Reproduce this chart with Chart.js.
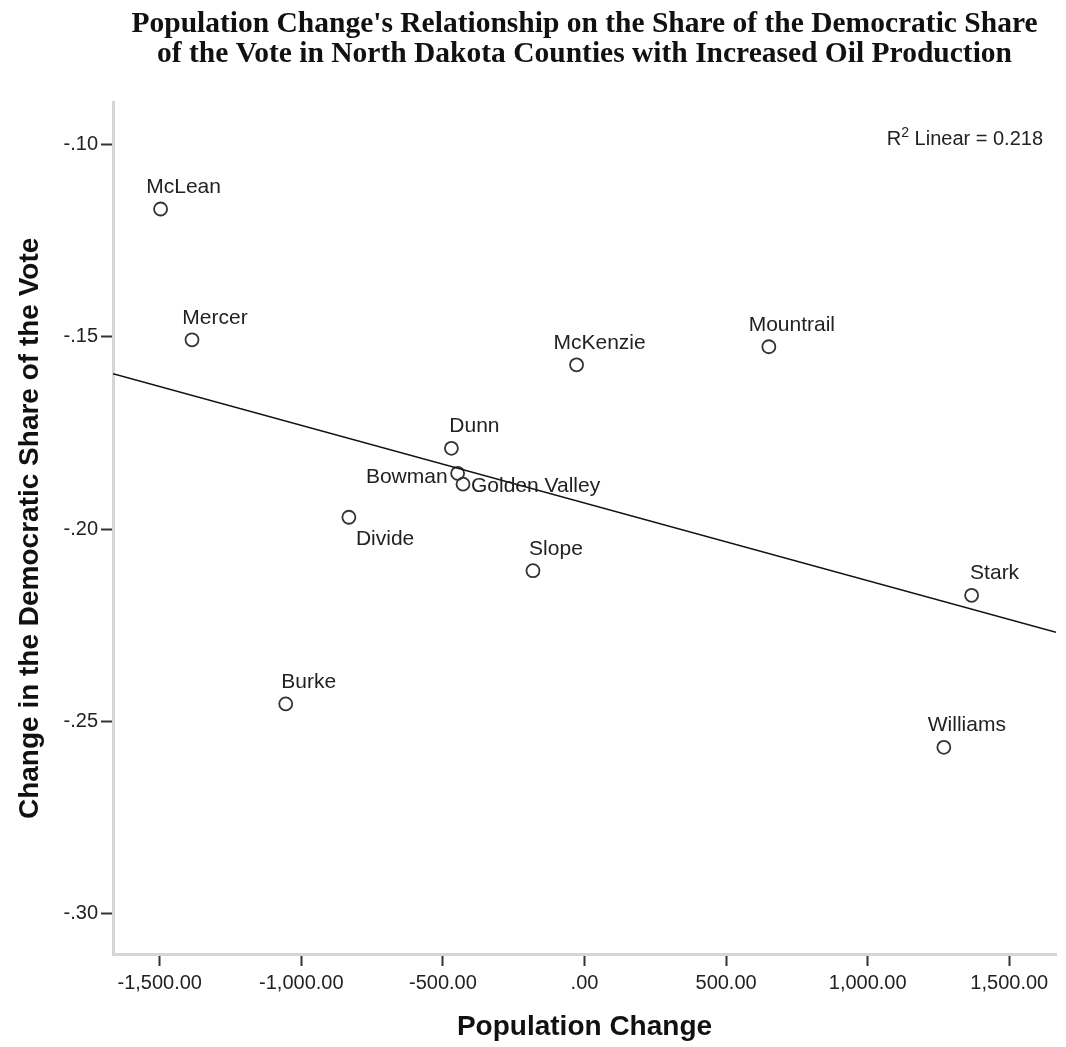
<!DOCTYPE html>
<html>
<head>
<meta charset="utf-8">
<title>Population Change and the Democratic Share - North Dakota</title>
<script src="https://cdn.jsdelivr.net/npm/chart.js@4/dist/chart.umd.min.js"></script>
<style>
    html, body { margin: 0; padding: 0; background: #fff; }
</style>
</head>
<body>
<canvas id="myChart" width="1066" height="1047"></canvas>
<script>

// county data
const counties = ["McLean", "Mercer", "Burke", "Divide", "Dunn", "Bowman", "Golden Valley", "Slope", "McKenzie", "Mountrail", "Williams", "Stark"];
const popChange = [-1497, -1386, -1055, -832, -470, -448, -429, -182, -28, 651, 1269, 1367];
const demShareChange = [-0.1168, -0.1508, -0.2454, -0.1969, -0.1790, -0.1855, -0.1883, -0.2108, -0.1573, -0.1526, -0.2567, -0.2172];

// axis ticks
const xTicks = [-1500, -1000, -500, 0, 500, 1000, 1500];
const yTicks = [-0.10, -0.15, -0.20, -0.25, -0.30];

const xMin = -1665;
const xMax = 1665;
const yMin = -0.3104;
const yMax = -0.0892;

// labels that are not placed above their point
const labelPlacement = {
    "Divide": "below",
    "Bowman": "left",
    "Golden Valley": "right"
};

// least squares fit of share change on population change
function fitLine(xs, ys) {
    let n = xs.length;
    let mx = xs.reduce((a, b) => a + b, 0) / n;
    let my = ys.reduce((a, b) => a + b, 0) / n;
    let sxy = 0, sxx = 0, syy = 0;
    for (var i = 0; i < n; i++) {
        sxy += (xs[i] - mx) * (ys[i] - my);
        sxx += (xs[i] - mx) * (xs[i] - mx);
        syy += (ys[i] - my) * (ys[i] - my);
    }
    let slope = sxy / sxx;
    return {
        slope: slope,
        intercept: my - slope * mx,
        r2: (sxy * sxy) / (sxx * syy)
    };
}

const fit = fitLine(popChange, demShareChange);

const points = popChange.map((x, i) => ({ x: x, y: demShareChange[i] }));
const fitPoints = [xMin, xMax].map(x => ({ x: x, y: fit.intercept + fit.slope * x }));

// county names next to each circle
const pointLabels = {
    id: "pointLabels",
    afterDatasetsDraw(chart) {
        const ctx = chart.ctx;
        const meta = chart.getDatasetMeta(1);
        ctx.save();
        ctx.font = "21px 'Liberation Sans', Arial, sans-serif";
        ctx.fillStyle = "#222";
        meta.data.forEach((pt, i) => {
            const name = counties[i];
            const place = labelPlacement[name] || "above";
            if (place === "below") {
                ctx.textAlign = "left";
                ctx.fillText(name, pt.x + 7, pt.y + 28);
            } else if (place === "left") {
                ctx.textAlign = "right";
                ctx.fillText(name, pt.x - 10, pt.y + 10);
            } else if (place === "right") {
                ctx.textAlign = "left";
                ctx.fillText(name, pt.x + 8, pt.y + 8);
            } else {
                ctx.textAlign = "center";
                ctx.fillText(name, pt.x + 23, pt.y - 16);
            }
        });
        ctx.restore();
    }
};

// R squared note in the top right corner
const fitNote = {
    id: "fitNote",
    afterDraw(chart) {
        const ctx = chart.ctx;
        const area = chart.chartArea;
        const rest = " Linear = " + fit.r2.toFixed(3);
        const baseY = area.top + 42;
        ctx.save();
        ctx.fillStyle = "#222";
        ctx.textAlign = "left";
        ctx.font = "20px 'Liberation Sans', Arial, sans-serif";
        const wR = ctx.measureText("R").width;
        const wRest = ctx.measureText(rest).width;
        ctx.font = "14px 'Liberation Sans', Arial, sans-serif";
        const wSup = ctx.measureText("2").width;
        let x = area.right - 13 - wR - wSup - wRest;
        ctx.font = "20px 'Liberation Sans', Arial, sans-serif";
        ctx.fillText("R", x, baseY);
        ctx.font = "14px 'Liberation Sans', Arial, sans-serif";
        ctx.fillText("2", x + wR, baseY - 8);
        ctx.font = "20px 'Liberation Sans', Arial, sans-serif";
        ctx.fillText(rest, x + wR + wSup, baseY);
        ctx.restore();
    }
};

const tickFont = { family: "'Liberation Sans', Arial, sans-serif", size: 20 };
const axisTitleFont = { family: "'Liberation Sans', Arial, sans-serif", size: 28, weight: "bold", lineHeight: 1.2 };

let myChart = new Chart(document.getElementById("myChart"), {
    type: "scatter",
    data: {
        datasets: [{
            type: "line",
            label: "Fit",
            data: fitPoints,
            borderColor: "#111",
            borderWidth: 1.6,
            pointRadius: 0,
            fill: false
        }, {
            label: "Counties",
            data: points,
            pointStyle: "circle",
            pointRadius: 6.5,
            borderWidth: 1.8,
            borderColor: "#333",
            backgroundColor: "rgba(255,255,255,0)"
        }]
    },
    options: {
        responsive: false,
        animation: false,
        events: [],
        layout: {
            padding: { top: 0, right: 10, bottom: 0, left: 5 }
        },
        plugins: {
            legend: { display: false },
            tooltip: { enabled: false },
            title: {
                display: true,
                fullSize: false,
                text: [
                    "Population Change's Relationship on the Share of the Democratic Share",
                    "of the Vote in North Dakota Counties with Increased Oil Production"
                ],
                color: "#111",
                font: { family: "'Liberation Serif', 'Times New Roman', serif", size: 29.5, weight: "bold", lineHeight: 1.03 },
                padding: { top: 9, bottom: 33 }
            }
        },
        scales: {
            x: {
                type: "linear",
                min: xMin,
                max: xMax,
                afterBuildTicks: axis => { axis.ticks = xTicks.map(v => ({ value: v })); },
                afterFit: axis => { axis.height = 93; },
                ticks: {
                    color: "#222",
                    font: tickFont,
                    padding: 5,
                    maxRotation: 0,
                    callback: v => v === 0 ? ".00" : v.toLocaleString("en-US", { minimumFractionDigits: 2, maximumFractionDigits: 2 })
                },
                grid: { display: true, drawOnChartArea: false, drawTicks: true, tickLength: 12, tickWidth: 2, tickColor: "#333" },
                border: { display: true, color: "#d6d6d6", width: 3 },
                title: {
                    display: true,
                    text: "Population Change",
                    color: "#111",
                    font: axisTitleFont,
                    padding: { top: 0, bottom: 3 }
                }
            },
            y: {
                type: "linear",
                min: yMin,
                max: yMax,
                afterBuildTicks: axis => { axis.ticks = yTicks.map(v => ({ value: v })); },
                afterFit: axis => { axis.width = 108; },
                ticks: {
                    color: "#222",
                    font: tickFont,
                    padding: 3,
                    callback: v => v.toFixed(2).replace("0.", ".")
                },
                grid: { display: true, drawOnChartArea: false, drawTicks: true, tickLength: 12, tickWidth: 2, tickColor: "#333" },
                border: { display: true, color: "#d6d6d6", width: 3 },
                title: {
                    display: true,
                    text: "Change in the Democratic Share of the Vote",
                    color: "#111",
                    font: axisTitleFont,
                    padding: { top: 8, bottom: 0 }
                }
            }
        }
    },
    plugins: [pointLabels, fitNote]
});

</script>
</body>
</html>
